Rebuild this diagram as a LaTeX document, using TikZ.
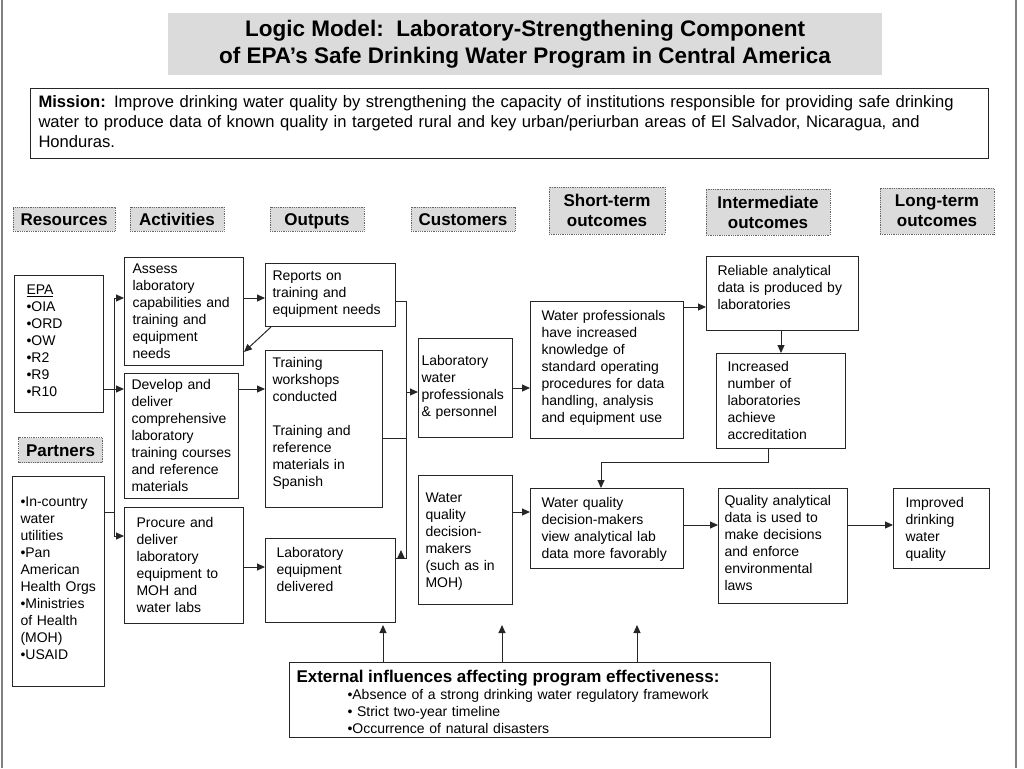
\documentclass[tikz,border=0pt]{standalone}
\usepackage{fontspec}
\setmainfont{Liberation Sans}
\usetikzlibrary{arrows.meta}
\tikzset{
  box/.style={draw=black!85, line width=1pt, anchor=north west, align=left,
    text height=12pt, font=\fontsize{14}{17}\selectfont},
  heading/.style={draw=black!60, densely dotted, line width=0.8pt, fill=gray!28,
    align=center, inner sep=0pt, font=\bfseries\fontsize{17}{20}\selectfont},
  oneline/.style={heading, text height=12.2pt, text depth=0pt, minimum height=24pt},
  wire/.style={line width=1pt, black!85},
  flow/.style={wire, -{Triangle[length=8pt,width=7pt]}}
}

\begin{document}
\begin{tikzpicture}[x=1pt, y=-1pt]
  \useasboundingbox (0,0) rectangle (1024,768);
  \draw[gray, line width=1.5pt] (2,0) -- (2,768) (1016,0) -- (1016,768);

  \node[fill=gray!28, minimum width=714pt, minimum height=62pt, align=center,
    font=\bfseries\fontsize{22.5}{27}\selectfont] (title) at (525,44)
    {Logic Model:\ \ Laboratory-Strengthening Component\\of EPA’s Safe Drinking Water Program in Central America};
  \node[box, text width=942pt, inner xsep=8pt, inner ysep=7pt, text depth=44pt,
    font=\fontsize{16.6}{20}\selectfont] (mission) at (30,88)
    {\textbf{Mission:} Improve drinking water quality by strengthening the capacity of institutions responsible for providing safe drinking\\
     water to produce data of known quality in targeted rural and key urban/periurban areas of El Salvador, Nicaragua, and\\
     Honduras.};

  \node[oneline, minimum width=102pt] (hres) at (64,219) {Resources};
  \node[oneline, minimum width=94pt] (hact) at (177,219) {Activities};
  \node[oneline, minimum width=94pt] (hout) at (317,219) {Outputs};
  \node[oneline, minimum width=104pt] (hcus) at (463,219) {Customers};
  \node[heading, minimum width=116pt, minimum height=47pt] (hshort) at (607,210.5) {Short-term\\outcomes};
  \node[heading, minimum width=124pt, minimum height=46pt] (hinter) at (768,212) {Intermediate\\outcomes};
  \node[heading, minimum width=114pt, minimum height=46pt] (hlong) at (937,211) {Long-term\\outcomes};
  \node[oneline, minimum width=84pt, minimum height=25pt] (hpart) at (60.5,450) {Partners};

  \node[box, text width=65pt, inner xsep=12pt, inner ysep=7pt, text depth=111pt] (epa) at (14,275)
    {\underline{EPA}\\•OIA\\•ORD\\•OW\\•R2\\•R9\\•R10};
  \node[box, text width=76pt, inner xsep=8pt, inner ysep=18pt, text depth=162pt] (partners) at (12,476)
    {•In-country\\water\\utilities\\•Pan\\American\\Health Orgs\\•Ministries\\of Health\\(MOH)\\•USAID};

  \node[box, text width=103pt, inner xsep=8pt, inner ysep=3.5pt, text depth=89pt] (assess) at (124,257)
    {Assess\\laboratory\\capabilities and\\training and\\equipment\\needs};
  \node[box, text width=100pt, inner xsep=7pt, inner ysep=4pt, text depth=105pt] (develop) at (124,373)
    {Develop and\\deliver\\comprehensive\\laboratory\\training courses\\and reference\\materials};
  \node[box, text width=95pt, inner xsep=12pt, inner ysep=8pt, text depth=88pt] (procure) at (124,507)
    {Procure and\\deliver\\laboratory\\equipment to\\MOH and\\water labs};

  \node[box, text width=116pt, inner xsep=7pt, inner ysep=5pt, text depth=41pt] (reports) at (265,263)
    {Reports on\\training and\\equipment needs};
  \node[box, text width=103pt, inner xsep=7pt, inner ysep=5pt, text depth=135pt] (training) at (265,350)
    {Training\\workshops\\conducted\\[17pt]Training and\\reference\\materials in\\Spanish};
  \node[box, text width=108pt, inner xsep=11pt, inner ysep=7pt, text depth=58pt] (labeq) at (265,538)
    {Laboratory\\equipment\\delivered};

  \node[box, text width=88pt, inner xsep=3pt, inner ysep=15pt, text depth=57pt] (labwater) at (418,338)
    {Laboratory\\water\\professionals\\\& personnel};
  \node[box, text width=80pt, inner xsep=7pt, inner ysep=14.5pt, text depth=88pt] (wqdm) at (418,475)
    {Water\\quality\\decision-\\makers\\(such as in\\MOH)};

  \node[box, text width=131pt, inner xsep=11pt, inner ysep=7pt, text depth=111pt] (waterprof) at (530,301)
    {Water professionals\\have increased\\knowledge of\\standard operating\\procedures for data\\handling, analysis\\and equipment use};
  \node[box, text width=131pt, inner xsep=11pt, inner ysep=7pt, text depth=54pt] (wqview) at (530,488)
    {Water quality\\decision-makers\\view analytical lab\\data more favorably};

  \node[box, text width=130pt, inner xsep=11pt, inner ysep=7pt, text depth=48pt] (reliable) at (706,256)
    {Reliable analytical\\data is produced by\\laboratories};
  \node[box, text width=107pt, inner xsep=11pt, inner ysep=6pt, text depth=71pt] (increased) at (716,353)
    {Increased\\number of\\laboratories\\achieve\\accreditation};
  \node[box, text width=117pt, inner xsep=6pt, inner ysep=5pt, text depth=93pt] (quality) at (718,488)
    {Quality analytical\\data is used to\\make decisions\\and enforce\\environmental\\laws};
  \node[box, text width=72pt, inner xsep=12pt, inner ysep=7pt, text depth=54pt] (improved) at (893,488)
    {Improved\\drinking\\water\\quality};

  \node[box, text width=467pt, inner xsep=7pt, inner ysep=8pt, text depth=47pt,
    font=\fontsize{14}{17}\selectfont] (external) at (289,662)
    {{\bfseries\fontsize{17}{17}\selectfont External influences affecting program effectiveness:}\\
     \hspace*{51pt}•Absence of a strong drinking water regulatory framework\\
     \hspace*{51pt}• Strict two-year timeline\\
     \hspace*{51pt}•Occurrence of natural disasters};

  \coordinate (rtop) at (114,298);
  \coordinate (rmid) at (114,389);
  \coordinate (rpar) at (114,512);
  \coordinate (rbot) at (114,536);
  \coordinate (otop) at (406,301);
  \coordinate (omid) at (406,438);
  \coordinate (ocus) at (406,392);
  \coordinate (obot) at (406,558);
  \coordinate (otip) at (401,550);
  \coordinate (pq) at (0,567);

  \draw[wire] (rtop) -- (rbot);
  \draw[flow] (rtop) -- (assess.west |- rtop);
  \draw[flow] (epa.east |- rmid) -- (develop.west |- rmid);
  \draw[wire] (partners.east |- rpar) -- (rpar);
  \draw[flow] (rbot) -- (procure.west |- rbot);

  \draw[flow] (assess.east |- rtop) -- (reports.west |- rtop);
  \draw[flow] (develop.east |- rmid) -- (training.west |- rmid);
  \draw[flow] (procure.east |- pq) -- (labeq.west |- pq);
  \draw[flow] ([xshift=6pt]reports.south west) -- (assess.east |- 0,352);

  \draw[wire] (reports.east |- otop) -- (otop) -- (obot) -- (labeq.east |- obot);
  \draw[wire] (training.east |- omid) -- (omid);
  \draw[flow] (otip |- obot) -- (otip);
  \draw[flow] (ocus) -- (labwater.west |- ocus);

  \draw[flow] (labwater.east) -- (waterprof.west |- labwater.east);
  \draw[flow] (wqdm.east |- 0,512) -- (wqview.west |- 0,512);
  \draw[flow] (waterprof.east |- 0,307) -- (reliable.west |- 0,307);
  \draw[flow] (reliable.south -| increased.north) -- (increased.north);
  \draw[flow] (increased.south -| 768,0) |- (601,462) -- (wqview.north -| 601,0);
  \draw[flow] (wqview.east |- 0,525) -- (quality.west |- 0,525);
  \draw[flow] (quality.east |- 0,525) -- (improved.west |- 0,525);

  \foreach \x in {383,502,637}
    \draw[flow] (external.north -| \x,0) -- (\x,625);
\end{tikzpicture}
\end{document}
